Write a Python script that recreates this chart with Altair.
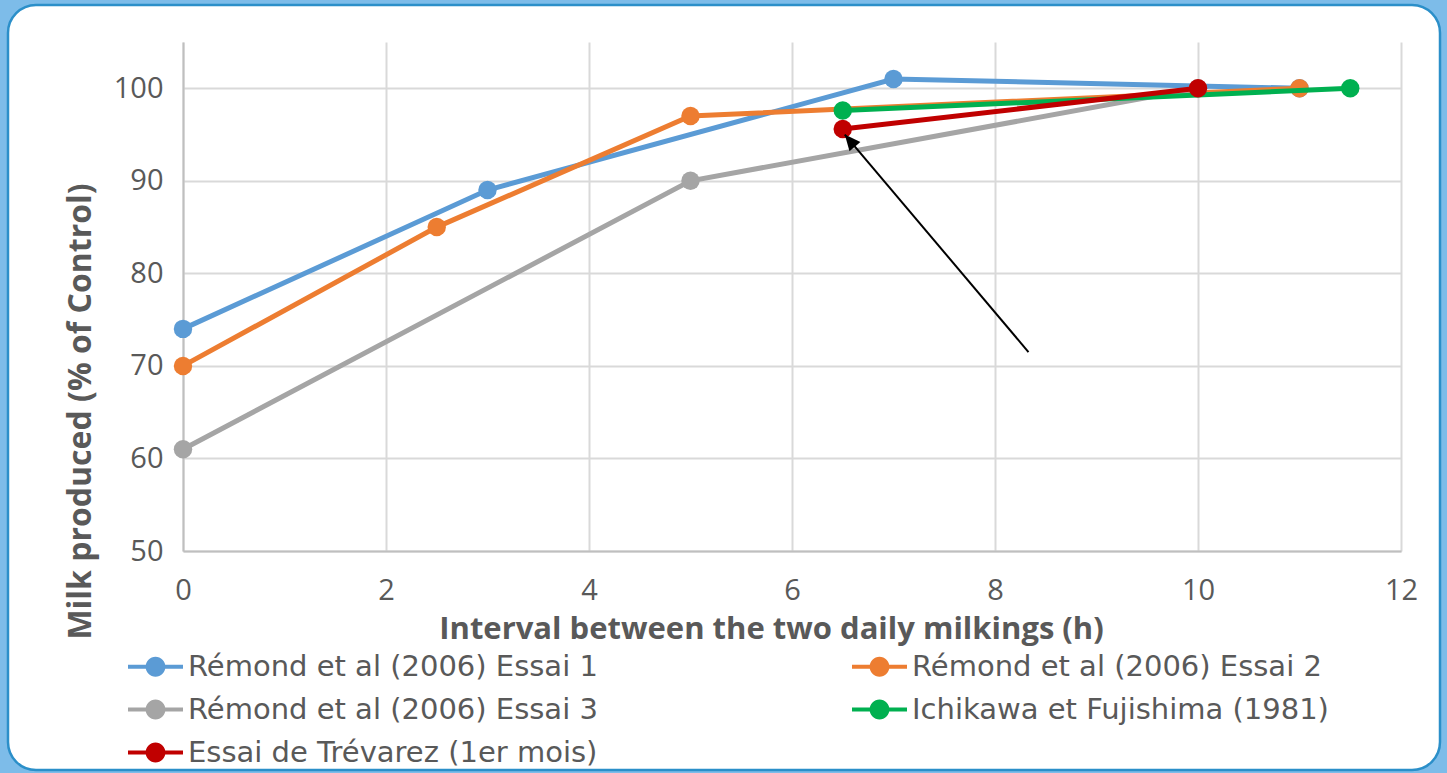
import math
import altair as alt
import pandas as pd

# Series definitions: interval between milkings (h) vs milk produced (% of control)
series_names = [
    "Rémond et al (2006) Essai 1",
    "Rémond et al (2006) Essai 2",
    "Rémond et al (2006) Essai 3",
    "Ichikawa et Fujishima (1981)",
    "Essai de Trévarez (1er mois)",
]
series_colors = ["#5B9BD5", "#ED7D31", "#A5A5A5", "#00B050", "#C00000"]

essai1_x = [0, 3, 7, 11]
essai1_y = [74, 89, 101, 100]
essai2_x = [0, 2.5, 5, 11]
essai2_y = [70, 85, 97, 100]
essai3_x = [0, 5, 10]
essai3_y = [61, 90, 100]
ichikawa_x = [6.5, 11.5]
ichikawa_y = [97.6, 100]
trevarez_x = [6.5, 10]
trevarez_y = [95.6, 100]

series_x = [essai1_x, essai2_x, essai3_x, ichikawa_x, trevarez_x]
series_y = [essai1_y, essai2_y, essai3_y, ichikawa_y, trevarez_y]

# Annotation arrow pointing at the first Trévarez point
arrow_from = (8.33, 71.5)
arrow_to = (6.52, 95.0)

x_ticks = [0, 2, 4, 6, 8, 10, 12]
y_ticks = [50, 60, 70, 80, 90, 100]

FONT = "Open Sans"
LEGEND_FONT = "DejaVu Sans"
TEXT = "#595959"

# legend is laid out column by column: put entries so that rows read
# Essai 1 | Essai 2, Essai 3 | Ichikawa, Trévarez
legend_order = [0, 2, 4, 1, 3]
color_scale = alt.Scale(
    domain=[series_names[i] for i in legend_order],
    range=[series_colors[i] for i in legend_order],
)
x_scale = alt.Scale(domain=[0, 12], nice=False, zero=False)
y_scale = alt.Scale(domain=[50, 105], nice=False, zero=False)

x_axis = alt.Axis(
    title="Interval between the two daily milkings (h)",
    values=x_ticks, grid=True, ticks=False,
    labelPadding=25, labelFlush=False, labelOverlap=False,
    titleX=588, titleY=63, titleFontSize=31,
)
y_axis = alt.Axis(
    title="Milk produced (% of Control)",
    values=y_ticks, grid=True, ticks=False,
    labelPadding=20, labelFlush=False, labelOverlap=False,
    titleX=-103, titleY=369, titleFontSize=32,
    titleAngle=270, titleAlign="center", titleBaseline="middle",
)

frame_df = pd.DataFrame({"k": [0]})
# rounded white card with a soft blue surround
surround = alt.Chart(frame_df).mark_rect(
    fillOpacity=0, stroke="#7DBCE9", strokeWidth=60, cornerRadius=58
).encode(
    x=alt.value(-175 - 30), x2=alt.value(1257 + 30),
    y=alt.value(-37 - 30), y2=alt.value(728 + 30),
)
border = alt.Chart(frame_df).mark_rect(
    fillOpacity=0, stroke="#2B8FC9", strokeWidth=2.5, cornerRadius=28
).encode(
    x=alt.value(-175), x2=alt.value(1257),
    y=alt.value(-37), y2=alt.value(728),
)

X = alt.X("interval:Q", scale=x_scale, axis=x_axis)
Y = alt.Y("milk:Q", scale=y_scale, axis=y_axis)

layers = [surround, border]
for i, (name, xs, ys) in enumerate(zip(series_names, series_x, series_y)):
    df = pd.DataFrame({"interval": xs, "milk": ys, "series": name, "order": range(len(xs))})
    base = alt.Chart(df)
    line = base.mark_line(color=series_colors[i], strokeWidth=5).encode(
        x=X, y=Y, order="order:Q",
    )
    pts = base.mark_point(filled=True, size=340, opacity=1).encode(
        x=X, y=Y,
        color=alt.Color("series:N", scale=color_scale, legend=alt.Legend(title=None)),
    )
    layers += [line, pts]

arrow_df = pd.DataFrame({
    "x0": [arrow_from[0]], "y0": [arrow_from[1]],
    "x1": [arrow_to[0]], "y1": [arrow_to[1]],
})
arrow_line = alt.Chart(arrow_df).mark_rule(color="black", strokeWidth=2).encode(
    x=alt.X("x0:Q", scale=x_scale, axis=x_axis),
    y=alt.Y("y0:Q", scale=y_scale, axis=y_axis),
    x2="x1:Q", y2="y1:Q",
)
arrow_head = alt.Chart(arrow_df).mark_point(
    shape="M0,0 L0.45,1 L-0.45,1 Z", filled=True, color="black",
    size=1000, angle=320, opacity=1,
).encode(
    x=alt.X("x1:Q", scale=x_scale, axis=x_axis),
    y=alt.Y("y1:Q", scale=y_scale, axis=y_axis),
)
layers += [arrow_line, arrow_head]

# legend glyph: a short line with a dot in the middle (dot as a fine polygon)
r = 0.36
dot = " ".join(
    ("M" if k == 0 else "L")
    + f"{r * math.cos(2 * math.pi * k / 32):.4f},{r * math.sin(2 * math.pi * k / 32):.4f}"
    for k in range(32)
) + " Z"
legend_symbol = "M-1,-0.075 L1,-0.075 L1,0.075 L-1,0.075 Z " + dot

chart = alt.layer(*layers).properties(
    width=1218, height=509,
    autosize=alt.AutoSizeParams(type="none"),
    padding={"left": 183, "top": 42, "right": 46, "bottom": 222},
    background="white",
).configure_view(strokeWidth=0).configure_axis(
    gridColor="#D9D9D9", gridWidth=2,
    domainColor="#BFBFBF", domainWidth=2,
    labelFont=FONT, labelFontSize=29, labelColor=TEXT,
    titleFont=FONT, titleFontWeight="bold", titleColor=TEXT,
).configure_legend(
    orient="none", legendX=-55, legendY=597, columns=2,
    symbolType=legend_symbol, symbolSize=3025, symbolStrokeWidth=0,
    labelFont=LEGEND_FONT, labelFontSize=29, labelColor=TEXT, labelOffset=5,
    labelLimit=700, rowPadding=0, columnPadding=254, padding=0,
)

chart.save("out.html", embed_options={"renderer": "svg", "actions": False})
